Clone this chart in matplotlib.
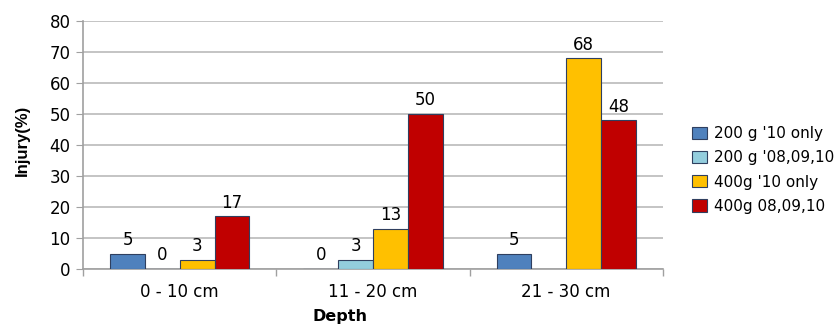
import numpy as np
import matplotlib.pyplot as plt

depths = ['0 - 10 cm', '11 - 20 cm', '21 - 30 cm']
series = ["200 g '10 only", "200 g '08,09,10", "400g '10 only", "400g 08,09,10"]
v200_10 = [5, 0, 5]
v200_080910 = [0, 3, np.nan]
v400_10 = [3, 13, 68]
v400_080910 = [17, 50, 48]
colors = ['#4F81BD', '#93CDDD', '#FFC000', '#C00000']

fig = plt.figure(figsize=(8.4, 3.25), dpi=100)
ax = fig.add_axes([0.099, 0.172, 0.690, 0.763])

x = np.arange(len(depths))
w = 0.18
values = [v200_10, v200_080910, v400_10, v400_080910]
for i, (vals, name, c) in enumerate(zip(values, series, colors)):
    pos = x + (i - 1.5) * w
    ax.bar(pos, vals, w, color=c, edgecolor='#2F3F5F', linewidth=0.8,
           label=name, zorder=3)
    for p, v in zip(pos, vals):
        if not np.isnan(v):
            ax.text(p, v + 1.5, f'{v:g}', ha='center', va='bottom',
                    fontsize=12, color='black')

ax.set_xlim(-0.5, 2.5)
ax.set_ylim(0, 80)
ax.set_yticks(range(0, 81, 10))
ax.yaxis.grid(True, color='#BFBFBF', linewidth=1.3, zorder=0)
ax.set_axisbelow(True)

ax.set_xticks(x)
ax.set_xticklabels(depths, fontsize=12)
ax.set_xticks([-0.5, 0.5, 1.5, 2.5], minor=True)
ax.tick_params(axis='x', which='major', length=0, pad=10)
ax.tick_params(axis='x', which='minor', length=5, color='#A0A0A0', width=1)
ax.tick_params(axis='y', length=5, color='#A0A0A0', labelsize=12, pad=4)

for s in ['top', 'right']:
    ax.spines[s].set_visible(False)
for s in ['left', 'bottom']:
    ax.spines[s].set_color('#A0A0A0')
    ax.spines[s].set_linewidth(1.2)

ax.set_ylabel('Injury(%)', fontsize=12, fontweight='bold',
              family='Liberation Sans')
ax.yaxis.set_label_coords(-0.092, 0.52)
ax.set_xlabel('Depth', fontsize=11.5, fontweight='bold')
ax.xaxis.set_label_coords(0.443, -0.19)
ax.xaxis.label.set_va('center')

fig.legend(loc='center left', bbox_to_anchor=(0.816, 0.477), frameon=False,
           fontsize=11, handlelength=1.0, handleheight=0.85,
           handletextpad=0.5, labelspacing=0.6, borderaxespad=0)

fig.savefig('out.png', dpi=100)
